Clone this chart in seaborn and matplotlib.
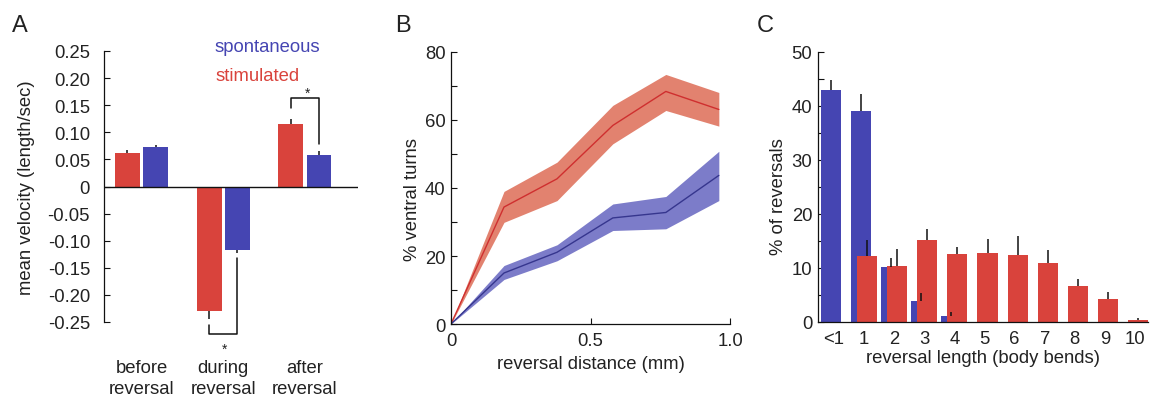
import numpy as np
import pandas as pd
import matplotlib
matplotlib.use("Agg")
import matplotlib.pyplot as plt
import seaborn as sns

# ---- data -------------------------------------------------------------
phases = ["before\nreversal", "during\nreversal", "after\nreversal"]
conditions = ["stimulated", "spontaneous"]
vel_stimulated = [0.062, -0.230, 0.116]
vel_spontaneous = [0.072, -0.117, 0.059]
err_stimulated = [0.005, 0.014, 0.009]
err_spontaneous = [0.005, 0.006, 0.006]

distance_mm = [0.0, 0.19, 0.38, 0.58, 0.77, 0.96]
ventral_stim = [0.0, 34.4, 42.7, 58.4, 68.4, 63.1]
ventral_stim_lo = [0.0, 29.9, 36.3, 53.0, 62.8, 58.2]
ventral_stim_hi = [0.0, 39.0, 47.6, 64.3, 73.4, 68.1]
ventral_spon = [0.0, 15.0, 21.1, 31.2, 32.8, 43.7]
ventral_spon_lo = [0.0, 13.1, 18.6, 27.5, 28.0, 36.3]
ventral_spon_hi = [0.0, 17.2, 23.3, 35.3, 37.5, 50.8]

length_labels = ["<1", "1", "2", "3", "4", "5", "6", "7", "8", "9", "10"]
pct_spontaneous = [42.9, 39.0, 10.1, 3.9, 1.2, 0, 0, 0, 0, 0, 0]
pct_spontaneous_err = [2.0, 3.2, 1.7, 1.4, 0.7, 0, 0, 0, 0, 0, 0]
pct_stimulated = [0, 12.3, 10.4, 15.1, 12.6, 12.8, 12.5, 10.9, 6.6, 4.2, 0.3]
pct_stimulated_err = [0, 2.9, 3.2, 2.1, 1.2, 2.6, 3.4, 2.4, 1.4, 1.4, 0.4]

# ---- style ------------------------------------------------------------
sns.set_theme(style="white")
plt.rcParams["font.family"] = ["Liberation Sans", "DejaVu Sans"]
plt.rcParams["axes.unicode_minus"] = False
TXT = "#222222"
RED = "#d9433c"
BLUE = "#4545b2"
RED_LINE = "#cf2f2f"
BLUE_LINE = "#36368e"
RED_BAND = "#e2826f"
BLUE_BAND = "#7c7cc9"
FS = 13.3
plt.rcParams.update({
    "text.color": TXT, "axes.labelcolor": TXT,
    "xtick.color": TXT, "ytick.color": TXT,
    "axes.edgecolor": "#111111", "axes.linewidth": 0.9,
    "xtick.labelsize": FS, "ytick.labelsize": FS, "axes.labelsize": FS,
})

W, H = 1160, 402
fig = plt.figure(figsize=(W / 100, H / 100), dpi=100)


def px_axes(left, top, right, bottom):
    return fig.add_axes([left / W, 1 - bottom / H, (right - left) / W, (bottom - top) / H])


def style_ticks(ax):
    ax.tick_params(direction="in", length=4.3, width=0.8, colors="#111111",
                   labelcolor=TXT, left=True, bottom=True)


# ---- panel A: mean velocity --------------------------------------------
axA = px_axes(104, 52, 358, 323)
dfA = pd.DataFrame({
    "phase": phases * 2,
    "condition": [conditions[0]] * 3 + [conditions[1]] * 3,
    "velocity": vel_stimulated + vel_spontaneous,
})
sns.barplot(data=dfA, x="phase", y="velocity", hue="condition",
            order=phases, hue_order=conditions, palette=[RED, BLUE],
            width=0.69, gap=0.113, errorbar=None, saturation=1,
            linewidth=0, legend=False, ax=axA)
offset = 0.69 / 4
for vals, errs, sgn in ((vel_stimulated, err_stimulated, -1),
                        (vel_spontaneous, err_spontaneous, 1)):
    for i, (v, e) in enumerate(zip(vals, errs)):
        axA.vlines(i + sgn * offset, v, v + np.sign(v) * e, color="#111111", lw=1.1, zorder=3)
axA.axhline(0, color="#111111", lw=1.0, zorder=2)
axA.set_xlim(-0.46, 2.65)
axA.set_ylim(-0.25, 0.25)
yt = np.round(np.arange(-0.25, 0.2501, 0.05), 2)
axA.set_yticks(yt)
axA.set_yticklabels(["0" if abs(t) < 1e-9 else f"{t:.2f}" for t in yt])
axA.set_xlabel("")
axA.set_ylabel("mean velocity (length/sec)")
axA.yaxis.set_label_coords(-0.27, 0.5)
for s in ("top", "right", "bottom"):
    axA.spines[s].set_visible(False)
style_ticks(axA)
axA.tick_params(axis="y", pad=10)
axA.tick_params(axis="x", length=0, pad=27)
for lab in axA.get_xticklabels():
    lab.set_linespacing(1.25)

# significance brackets
x1, x2 = 2 - offset, 2 + offset
axA.plot([x1, x1, x2, x2], [0.145, 0.164, 0.164, 0.079], color="#111111",
         lw=1.1, clip_on=False)
axA.text(2.035, 0.172, "*", ha="center", va="center", fontsize=10, color=TXT)
x1, x2 = 1 - offset, 1 + offset
axA.plot([x1, x1, x2, x2], [-0.2555, -0.2715, -0.2715, -0.1326], color="#111111",
         lw=1.1, clip_on=False)
axA.text(1.012, -0.299, "*", ha="center", va="center", fontsize=10, color=TXT,
         clip_on=False)
axA.text(0.898, 0.259, "spontaneous", color=BLUE, fontsize=FS, ha="left", va="center")
axA.text(0.91, 0.205, "stimulated", color=RED, fontsize=FS, ha="left", va="center")

# ---- panel B: ventral turns vs distance --------------------------------
axB = px_axes(451, 53, 730, 325)
axB.fill_between(distance_mm, ventral_stim_lo, ventral_stim_hi, color=RED_BAND,
                 lw=0, zorder=1)
axB.fill_between(distance_mm, ventral_spon_lo, ventral_spon_hi, color=BLUE_BAND,
                 lw=0, zorder=1)
sns.lineplot(x=distance_mm, y=ventral_stim, color=RED_LINE, lw=1.0, ax=axB, zorder=2)
sns.lineplot(x=distance_mm, y=ventral_spon, color=BLUE_LINE, lw=1.0, ax=axB, zorder=2)
axB.set_xlim(0, 1.0)
axB.set_ylim(0, 80)
axB.set_xticks([0, 0.5, 1.0])
axB.set_xticklabels(["0", "0.5", "1.0"])
axB.set_yticks(np.arange(0, 81, 10))
axB.set_yticklabels([str(v) if v % 20 == 0 else "" for v in range(0, 81, 10)])
axB.set_xlabel("reversal distance (mm)", labelpad=4)
axB.set_ylabel("% ventral turns")
axB.yaxis.set_label_coords(-0.107, 0.463)
for s in ("top", "right"):
    axB.spines[s].set_visible(False)
style_ticks(axB)
axB.tick_params(axis="y", pad=4)
axB.tick_params(axis="x", pad=6)

# ---- panel C: reversal length distribution -----------------------------
axC = px_axes(818, 53, 1148, 323)
idx = np.arange(len(length_labels))
sns.barplot(x=idx - 0.1, y=pct_spontaneous, native_scale=True, width=0.67,
            color=BLUE, saturation=1, linewidth=0, errorbar=None, ax=axC, zorder=1)
sns.barplot(x=idx + 0.1, y=pct_stimulated, native_scale=True, width=0.67,
            color=RED, saturation=1, linewidth=0, errorbar=None, ax=axC, zorder=2)
axC.vlines(idx - 0.1, pct_spontaneous,
           np.array(pct_spontaneous) + np.array(pct_spontaneous_err),
           color="#111111", lw=1.1, zorder=3)
axC.vlines(idx + 0.1, pct_stimulated,
           np.array(pct_stimulated) + np.array(pct_stimulated_err),
           color="#111111", lw=1.1, zorder=3)
axC.set_xlim(-0.53, 10.43)
axC.set_ylim(0, 50)
axC.set_xticks(idx)
axC.set_xticklabels(length_labels)
axC.set_yticks(np.arange(0, 51, 5))
axC.set_yticklabels([str(v) if v % 10 == 0 else "" for v in range(0, 51, 5)])
axC.set_xlabel("reversal length (body bends)", labelpad=1)
axC.set_ylabel("% of reversals")
axC.yaxis.set_label_coords(-0.094, 0.467)
for s in ("top", "right"):
    axC.spines[s].set_visible(False)
style_ticks(axC)
axC.tick_params(axis="y", pad=4)
axC.tick_params(axis="x", length=0, pad=6)

# ---- panel letters -----------------------------------------------------
for x, letter in ((12, "A"), (395, "B"), (757, "C")):
    fig.text(x / W, 1 - 32 / H, letter, fontsize=17, color=TXT, ha="left", va="baseline")

fig.savefig("out.png", dpi=100)
